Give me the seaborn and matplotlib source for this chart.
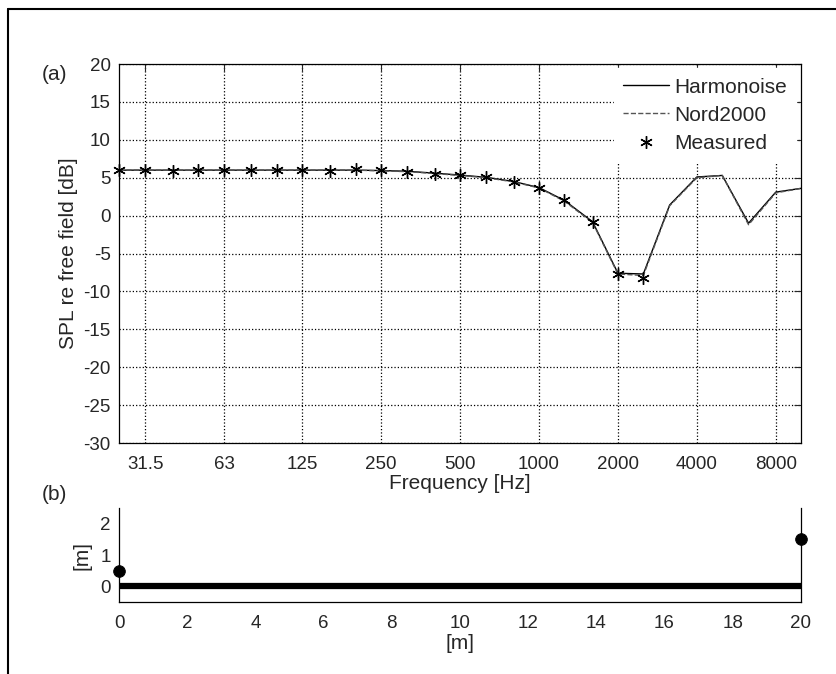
import numpy as np
import pandas as pd
import matplotlib
matplotlib.use("Agg")
import matplotlib.pyplot as plt
from matplotlib.lines import Line2D
from matplotlib.ticker import FixedLocator, FixedFormatter, NullLocator
import seaborn as sns

# third-octave band centre frequencies [Hz]
freqs = [25, 31.5, 40, 50, 63, 80, 100, 125, 160, 200, 250, 315, 400, 500,
         630, 800, 1000, 1250, 1600, 2000, 2500, 3150, 4000, 5000, 6300, 8000, 10000]
harmonoise = [6.0, 6.0, 6.0, 6.0, 6.0, 6.0, 6.0, 6.0, 6.0, 6.0, 5.95, 5.85, 5.6, 5.35,
              5.05, 4.5, 3.7, 2.0, -0.8, -7.6, -7.7, 1.4, 5.1, 5.3, -1.0, 3.1, 3.6]
nord2000 = [6.0, 6.0, 6.0, 6.0, 6.0, 6.0, 6.0, 6.0, 6.0, 6.0, 5.9, 5.8, 5.55, 5.3,
            5.0, 4.45, 3.65, 1.9, -0.9, -7.7, -7.9, 1.3, 5.0, 5.3, -1.2, 3.0, 3.6]
meas_freqs = freqs[:21]
measured = [6.0, 6.0, 5.9, 6.0, 6.0, 6.0, 6.0, 6.0, 5.9, 6.1, 6.0, 5.8, 5.5, 5.3,
            5.1, 4.5, 3.7, 2.0, -0.9, -7.7, -8.2]
xtick_vals = [31.5, 63, 125, 250, 500, 1000, 2000, 4000, 8000]
xtick_labels = ['31.5', '63', '125', '250', '500', '1000', '2000', '4000', '8000']

# geometry panel (b)
ground_x = [0, 20]
ground_y = [0, 0]
pos_x = [0, 20]
pos_y = [0.5, 1.5]

sns.set_style("white")
plt.rcParams['font.family'] = ['Liberation Sans', 'DejaVu Sans']
plt.rcParams['axes.unicode_minus'] = False
plt.rcParams['xtick.direction'] = 'in'
plt.rcParams['ytick.direction'] = 'in'

fig = plt.figure(figsize=(8.37, 6.74), dpi=100)
ax = fig.add_axes([0.1422, 0.3427, 0.815, 0.5623])
ax2 = fig.add_axes([0.1422, 0.1068, 0.8145, 0.1395])

df_h = pd.DataFrame({'f': freqs, 'L': harmonoise})
df_n = pd.DataFrame({'f': freqs, 'L': nord2000})
df_m = pd.DataFrame({'f': meas_freqs, 'L': measured})

sns.lineplot(data=df_h, x='f', y='L', ax=ax, color='black', lw=1.0,
             label='Harmonoise', zorder=3)
sns.lineplot(data=df_n, x='f', y='L', ax=ax, color='#555555', lw=1.0,
             linestyle='--', label='Nord2000', zorder=3)
ax.plot(df_m['f'], df_m['L'], linestyle='none', marker=(6, 2, 0), ms=9,
        mew=1.0, color='black', label='Measured', zorder=4, clip_on=False)

ax.set_xscale('log')
ax.set_xlim(25, 10000)
ax.set_ylim(-30, 20)
ax.xaxis.set_major_locator(FixedLocator(xtick_vals))
ax.xaxis.set_major_formatter(FixedFormatter(xtick_labels))
ax.xaxis.set_minor_locator(NullLocator())
ax.set_yticks(np.arange(-30, 21, 5))
ax.grid(True, which='major', color='black', linestyle=':', linewidth=0.9)
ax.tick_params(axis='both', which='major', labelsize=13.5, length=5, width=0.8,
               top=True, right=True, pad=6)
ax.tick_params(axis='x', pad=9)
for s in ax.spines.values():
    s.set_linewidth(0.9)
    s.set_color('black')
ax.set_xlabel('Frequency [Hz]', fontsize=15, labelpad=1)
ax.set_ylabel('SPL re free field [dB]', fontsize=15, labelpad=4)

leg = ax.legend(loc='upper right', bbox_to_anchor=(0.993, 0.989), fontsize=15,
                frameon=True, fancybox=False, framealpha=1, edgecolor='white',
                handlelength=2.2, handletextpad=0.24, labelspacing=0.44,
                borderpad=0.45, borderaxespad=0)

# panel (b)
sns.lineplot(x=ground_x, y=ground_y, ax=ax2, color='black', lw=4.5)
sns.scatterplot(x=pos_x, y=pos_y, ax=ax2, color='black', s=70, zorder=5,
                clip_on=False, edgecolor='black')
ax2.set_xlim(0, 20)
ax2.set_ylim(-0.5, 2.5)
ax2.set_xticks(np.arange(0, 21, 2))
ax2.set_yticks([0, 1, 2])
ax2.spines['top'].set_visible(False)
for s in ['left', 'right', 'bottom']:
    ax2.spines[s].set_linewidth(0.9)
    ax2.spines[s].set_color('black')
ax2.tick_params(axis='both', labelsize=13.5, length=5, width=0.8, pad=6)
ax2.tick_params(axis='x', pad=9)
ax2.set_xlabel('[m]', fontsize=15, labelpad=2)
ax2.set_ylabel('[m]', fontsize=15, labelpad=6)

fig.text(42 / 837, 1 - 74 / 674, '(a)', fontsize=15, va='center', ha='left')
fig.text(42 / 837, 1 - 495 / 674, '(b)', fontsize=15, va='center', ha='left')

# frame around the figure (only top and left visible in the crop)
fig.add_artist(Line2D([8 / 837, 8 / 837], [0, 1 - 9 / 674], transform=fig.transFigure,
                      color='black', lw=1.5))
fig.add_artist(Line2D([8 / 837, 1], [1 - 9 / 674, 1 - 9 / 674], transform=fig.transFigure,
                      color='black', lw=1.5))

fig.savefig('out.png', dpi=100, facecolor='white')
